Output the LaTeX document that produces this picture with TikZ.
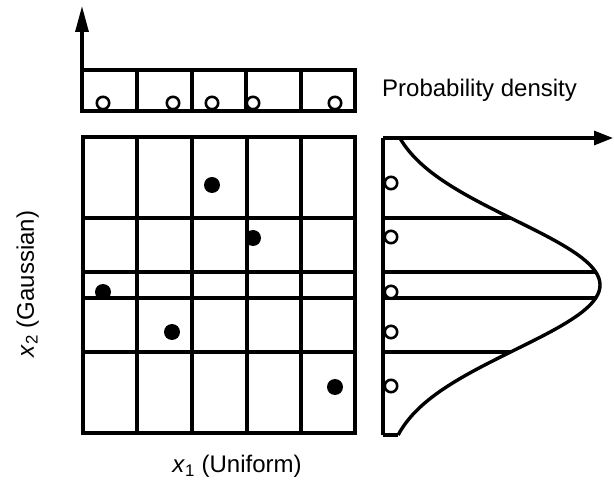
\documentclass[tikz,border=0pt]{standalone}
\usepackage{fontspec}
\setmainfont{Liberation Sans}
\usetikzlibrary{calc, arrows.meta}
\tikzset{
  gridline/.style = {draw=black, line width=3.4pt},
  axis/.style     = {-{Triangle[length=26pt, width=13pt]}, draw=black, line width=3.2pt},
  raxis/.style    = {-{Triangle[length=19pt, width=14pt]}, draw=black, line width=3.2pt},
  ring/.style     = {draw=black, fill=white, line width=2.6pt},
  sample/.style   = {fill=black},
  lbl/.style      = {font=\fontsize{24}{28}\selectfont, inner sep=0pt}
}
\newcommand{\gauss}[1]{383+217*exp(-0.5*((#1-285)/65)^2)}

\begin{document}
\begin{tikzpicture}[x=1pt, y=-1pt]
  \useasboundingbox (0,0) rectangle (614,494);

  % uniform marginal on top
  \coordinate (u0) at (82,70);
  \coordinate (utip) at (82,6);
  \draw[gridline] (u0) rectangle (355,111);
  \foreach \x in {137,192,246,301} \draw[gridline] (\x,70) -- (\x,111);
  \foreach \x in {103,173,212,253,335} \draw[ring] (\x,103) circle[radius=6.2pt];
  \draw[axis] (u0) -- (utip);

  % sample grid
  \draw[gridline] (83,137) rectangle (355,433);
  \foreach \x in {137,192,247,301} \draw[gridline] (\x,137) -- (\x,433);
  \foreach \y in {218,272,298,352} \draw[gridline] (83,\y) -- (355,\y);
  \foreach \x/\y in {212/185, 253/238, 103/292, 172/332, 335/387}
    \fill[sample] (\x,\y) circle[radius=8pt];

  % gaussian marginal on the right
  \coordinate (g0) at (383,138);
  \coordinate (gtip) at (613,138);
  \coordinate (g1) at (383,435);
  \draw[gridline] (g0) -- (g1);
  \draw[gridline, line join=round]
    plot[domain=138:435, samples=90, variable=\t] ({\gauss{\t}}, \t);
  \pgfmathsetmacro\cx{\gauss{435}}
  \draw[gridline] (g1) -- (\cx,435);
  \foreach \y in {218,272,298,352} {
    \pgfmathsetmacro\cx{\gauss{\y}}
    \draw[gridline] (383,\y) -- (\cx,\y);
  }
  \foreach \y in {183,237,292,332,386} \draw[ring] (391,\y) circle[radius=6.2pt];
  \draw[raxis] (g0) -- (gtip);

  % labels
  \node[lbl, anchor=base west] (pd) at (382,97) {Probability density};
  \node[lbl, anchor=base] (xone) at (237,473) {\textit{x}\textsubscript{1} (Uniform)};
  \node[lbl, anchor=base, rotate=90] (xtwo) at (34,284) {\textit{x}\textsubscript{2} (Gaussian)};
\end{tikzpicture}
\end{document}
